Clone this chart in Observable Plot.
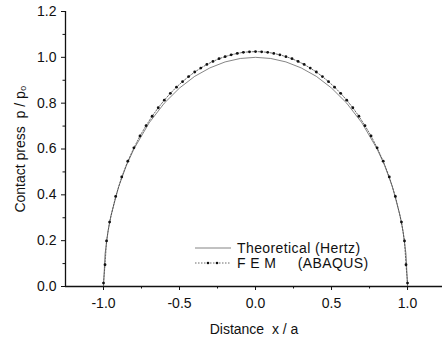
<!DOCTYPE html>
<html><head><meta charset="utf-8">
<script src="https://cdn.jsdelivr.net/npm/d3@7"></script>
<script src="https://cdn.jsdelivr.net/npm/@observablehq/plot@0.6"></script>
<style>
body{margin:0;background:#fff;font-family:"Liberation Sans",Arial,sans-serif;}
#wrap{position:relative;width:442px;height:342px;}
#legend{position:absolute;left:195px;top:240px;font-size:14px;letter-spacing:0.4px;color:#111;}
.row{display:flex;align-items:center;height:15px;}
.row svg{margin-right:6px;flex:none;}
.row span{white-space:pre;}
</style></head>
<body><div id="wrap"><div id="chart"></div>
<div id="legend"><div class="row"><svg width="36" height="6"><line x1="0" y1="3" x2="36" y2="3" stroke="#666" stroke-width="0.8"/></svg><span>Theoretical (Hertz)</span></div><div class="row"><svg width="36" height="6"><line x1="0" y1="3" x2="36" y2="3" stroke="#444" stroke-width="0.8" stroke-dasharray="1.5,1.5"/><circle cx="13" cy="3" r="1.3" fill="#111"/><circle cx="22" cy="3" r="1.3" fill="#111"/></svg><span>F E M     (ABAQUS)</span></div></div>
</div>
<script>
// Theoretical (Hertz)
const theoX = [-1.0,-0.99,-0.97,-0.95,-0.9,-0.85,-0.8,-0.7,-0.6,-0.5,-0.4,-0.3,-0.2,-0.1,0.0,0.1,0.2,0.3,0.4,0.5,0.6,0.7,0.8,0.85,0.9,0.95,0.97,0.99,1.0];
const theoY = [0,0.141,0.243,0.312,0.436,0.527,0.600,0.714,0.800,0.866,0.917,0.954,0.980,0.995,1.000,0.995,0.980,0.954,0.917,0.866,0.800,0.714,0.600,0.527,0.436,0.312,0.243,0.141,0];
// FEM (ABAQUS)
const femX = [-1.0,-0.99,-0.98,-0.96,-0.92,-0.88,-0.84,-0.80,-0.76,-0.72,-0.68,-0.64,-0.60,-0.56,-0.52,-0.48,-0.44,-0.40,-0.36,-0.32,-0.28,-0.24,-0.20,-0.16,-0.12,-0.08,-0.04,0.0,0.04,0.08,0.12,0.16,0.20,0.24,0.28,0.32,0.36,0.40,0.44,0.48,0.52,0.56,0.60,0.64,0.68,0.72,0.76,0.80,0.84,0.88,0.92,0.96,0.98,0.99,1.0];
const femY = [0.015,0.095,0.199,0.281,0.393,0.478,0.547,0.605,0.657,0.702,0.743,0.780,0.813,0.843,0.870,0.894,0.916,0.936,0.953,0.969,0.982,0.994,1.003,1.011,1.017,1.022,1.024,1.025,1.024,1.022,1.017,1.011,1.003,0.994,0.982,0.969,0.953,0.936,0.916,0.894,0.870,0.843,0.813,0.780,0.743,0.702,0.657,0.605,0.547,0.478,0.393,0.281,0.199,0.095,0.015];
const xMajor = [-1.0,-0.5,0.0,0.5,1.0];
const xMinor = [-0.75,-0.25,0.25,0.75];
const yMajor = [0.0,0.2,0.4,0.6,0.8,1.0,1.2];
const yMinor = [0.1,0.3,0.5,0.7,0.9,1.1];

const theo = theoX.map((x,i)=>({x, y:theoY[i]}));
const fem = femX.map((x,i)=>({x, y:femY[i]}));
const fmt = d => d.toFixed(1);

const chart = Plot.plot({
  width: 442, height: 342,
  marginLeft: 65, marginRight: 0, marginTop: 11, marginBottom: 56,
  style: {fontFamily: '"Liberation Sans", Arial, sans-serif', fontSize: "14px", color: "#111", background: "#fff"},
  x: {domain: [-1.25, 1.23]},
  y: {domain: [0, 1.2]},
  marks: [
    Plot.line(theo, {x: "x", y: "y", stroke: "#666", strokeWidth: 0.8}),
    Plot.line(fem, {x: "x", y: "y", stroke: "#444", strokeWidth: 0.8, strokeDasharray: "1.5,1.5"}),
    Plot.dot(fem, {x: "x", y: "y", r: 1.4, fill: "#111", stroke: "none"}),
    Plot.ruleY([0], {stroke: "#111", strokeWidth: 1.3}),
    Plot.ruleX([-1.25], {stroke: "#111", strokeWidth: 1.3}),
    Plot.axisX({ticks: xMajor, tickFormat: fmt, tickSize: 4, tickPadding: 8, label: "Distance  x / a", labelAnchor: "center", labelArrow: "none", labelOffset: 47}),
    Plot.axisX({ticks: xMinor, tickFormat: () => "", tickSize: 2.5, label: null}),
    Plot.axisY({ticks: yMajor, tickFormat: fmt, tickSize: 4, tickPadding: 5, label: "Contact press  p / p₀", labelAnchor: "center", labelArrow: "none", labelOffset: 50}),
    Plot.axisY({ticks: yMinor, tickFormat: () => "", tickSize: 2.5, label: null})
  ]
});
document.getElementById("chart").appendChild(chart);
</script></body></html>
